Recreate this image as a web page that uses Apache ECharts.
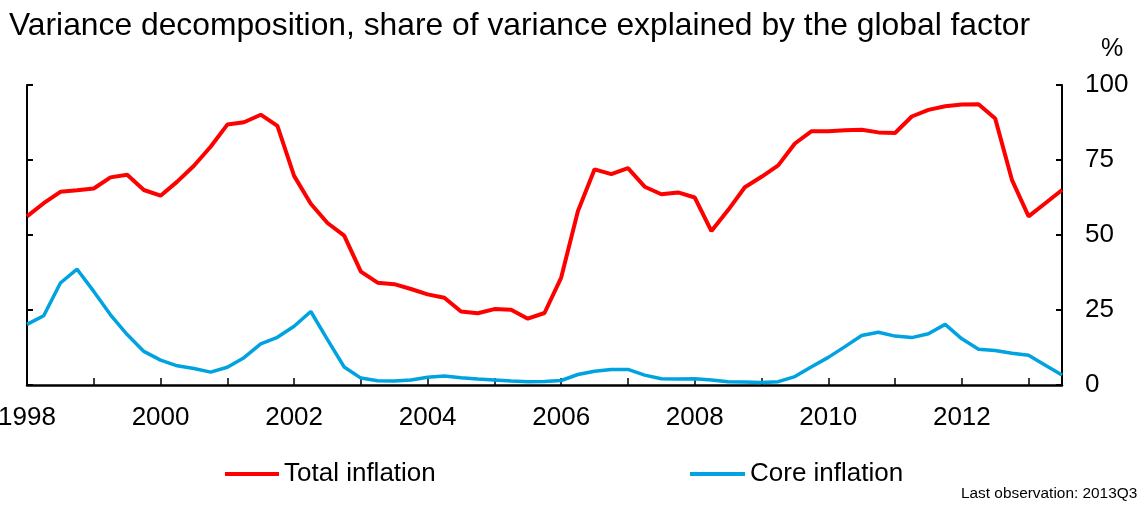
<!DOCTYPE html>
<html>
<head>
<meta charset="utf-8">
<script src="https://cdn.jsdelivr.net/npm/echarts@6/dist/echarts.min.js"></script>
<style>
    html, body { margin: 0; padding: 0; background: #fff; }
    #chart { width: 1139px; height: 505px; }
</style>
</head>
<body>
<div id="chart"></div>
<script>
// quarterly, 1998Q1 .. 2013Q3
const quarters = [];
for (let y = 1998; y <= 2013; y++) {
    for (let q = 1; q <= 4; q++) {
        if (y === 2013 && q > 3) break;
        quarters.push(y + 'Q' + q);
    }
}

const totalInflation = [
    56.2, 60.6, 64.4, 64.9, 65.5, 69.2, 70.1, 65.0, 63.1, 67.8,
    73.1, 79.4, 86.8, 87.6, 90.1, 86.4, 69.7, 60.4, 54.0, 49.8,
    37.8, 34.1, 33.6, 32.0, 30.2, 29.1, 24.5, 23.9, 25.3, 25.1,
    22.1, 24.0, 35.8, 57.9, 71.9, 70.3, 72.3, 66.1, 63.6, 64.2,
    62.5, 51.3, 58.3, 65.9, 69.4, 73.2, 80.5, 84.6, 84.6, 84.9,
    85.1, 84.2, 84.0, 89.5, 91.7, 92.9, 93.5, 93.6, 88.8, 68.4,
    56.2, 60.6, 65.0
];

const coreInflation = [
    20.2, 23.1, 34.0, 38.6, 31.2, 23.4, 16.8, 11.2, 8.3, 6.4,
    5.5, 4.3, 5.9, 9.1, 13.7, 15.9, 19.6, 24.5, 15.1, 6.0,
    2.3, 1.4, 1.3, 1.7, 2.6, 3.0, 2.4, 2.0, 1.7, 1.3,
    1.1, 1.2, 1.5, 3.5, 4.6, 5.2, 5.2, 3.3, 2.1, 2.0,
    2.1, 1.7, 1.1, 1.0, 0.8, 1.1, 2.8, 6.1, 9.2, 12.8,
    16.5, 17.6, 16.3, 15.8, 17.1, 20.2, 15.4, 11.9, 11.5, 10.6,
    9.9, 6.6, 3.3
];

const yTicks = [0, 25, 50, 75, 100];

const chart = echarts.init(document.getElementById('chart'));
const font = 'Liberation Sans, Arial, sans-serif';

const sideAxis = (pos, showLabels) => ({
    type: 'value',
    position: pos,
    min: yTicks[0],
    max: yTicks[yTicks.length - 1],
    interval: 25,
    axisLine: { show: true, lineStyle: { color: '#000', width: 2 } },
    axisTick: { show: true, inside: true, length: 6, lineStyle: { color: '#000', width: 2 } },
    axisLabel: {
        show: showLabels,
        color: '#000',
        fontSize: 26,
        fontFamily: font,
        margin: 23,
        align: 'left'
    },
    splitLine: { show: false }
});

const legendText = { fontSize: 26, color: '#000', fontFamily: font };

chart.setOption({
    animation: false,
    backgroundColor: '#fff',
    textStyle: { fontFamily: font },
    title: {
        text: 'Variance decomposition, share of variance explained by the global factor',
        left: 4,
        top: 5,
        textStyle: { fontSize: 31.8, fontWeight: 'normal', color: '#000', fontFamily: font }
    },
    grid: { left: 27, right: 77, top: 85, bottom: 120, containLabel: false, outerBoundsMode: 'none' },
    legend: [
        {
            left: 225, top: 461, padding: 0, icon: 'rect', itemWidth: 54, itemHeight: 4, itemGap: 5,
            textStyle: legendText, data: ['Total inflation']
        },
        {
            left: 690, top: 461, padding: 0, icon: 'rect', itemWidth: 55, itemHeight: 4, itemGap: 5,
            textStyle: legendText, data: ['Core inflation']
        }
    ],
    xAxis: {
        type: 'category',
        data: quarters,
        boundaryGap: false,
        offset: 2,
        axisLine: { show: true, lineStyle: { color: '#000', width: 2.5 } },
        axisTick: {
            show: true,
            inside: true,
            length: 7,
            interval: (i) => i % 4 === 0,
            lineStyle: { color: '#000', width: 1.5 }
        },
        axisLabel: {
            color: '#000',
            fontSize: 26,
            fontFamily: font,
            margin: 18,
            interval: (i) => i % 8 === 0,
            formatter: (v) => v.slice(0, 4)
        },
        splitLine: { show: false }
    },
    yAxis: [sideAxis('right', true), sideAxis('left', false)],
    graphic: [
        {
            type: 'text',
            left: 1101,
            top: 37,
            style: { text: '%', fontSize: 25, fill: '#000', fontFamily: font }
        },
        {
            type: 'text',
            left: 961,
            top: 486,
            style: { text: 'Last observation: 2013Q3', fontSize: 15.4, fill: '#000', fontFamily: font }
        }
    ],
    series: [
        {
            name: 'Total inflation',
            type: 'line',
            data: totalInflation,
            symbol: 'none',
            color: '#ff0000',
            lineStyle: { color: '#ff0000', width: 4 },
            markLine: {
                silent: true,
                symbol: 'none',
                label: { show: false },
                lineStyle: { color: '#000', type: [3, 2], width: 1.2 },
                data: [{ yAxis: 0 }]
            },
            z: 3
        },
        {
            name: 'Core inflation',
            type: 'line',
            data: coreInflation,
            symbol: 'none',
            color: '#00a2e0',
            lineStyle: { color: '#00a2e0', width: 3.5 },
            z: 2
        }
    ]
});
</script>
</body>
</html>
